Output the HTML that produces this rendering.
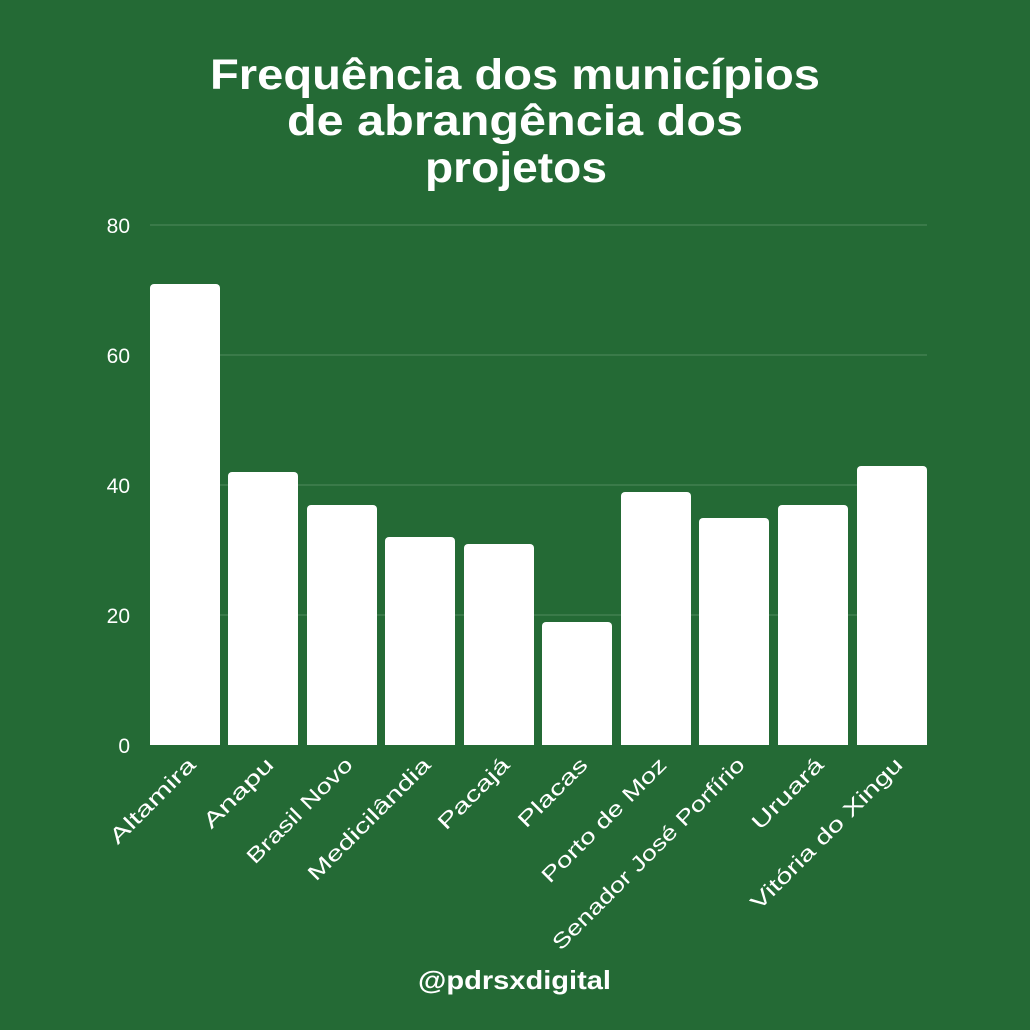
<!DOCTYPE html>
<html><head><meta charset="utf-8"><style>
html,body{margin:0;padding:0;background:#246a35;}
svg{display:block;font-family:"Liberation Sans",sans-serif;}
</style></head><body>
<svg width="1030" height="1030" viewBox="0 0 1030 1030" xmlns="http://www.w3.org/2000/svg">
<rect width="1030" height="1030" fill="#246a35"/>
<g fill="#fff" font-weight="bold" font-size="43" text-anchor="start">
<text x="210" y="89" textLength="610" lengthAdjust="spacingAndGlyphs">Frequência dos municípios</text>
<text x="287" y="135" textLength="456" lengthAdjust="spacingAndGlyphs">de abrangência dos</text>
<text x="425" y="182" textLength="182" lengthAdjust="spacingAndGlyphs">projetos</text>
<text x="418" y="989" font-size="26" textLength="193" lengthAdjust="spacingAndGlyphs">@pdrsxdigital</text>
</g>
<g stroke="#4f8a5d" stroke-width="1">
<line x1="150" y1="225" x2="927" y2="225"/>
<line x1="150" y1="355" x2="927" y2="355"/>
<line x1="150" y1="485" x2="927" y2="485"/>
<line x1="150" y1="615" x2="927" y2="615"/>
</g>
<g fill="#fff" font-size="21" text-anchor="end">
<text x="130" y="233">80</text>
<text x="130" y="363">60</text>
<text x="130" y="493">40</text>
<text x="130" y="623">20</text>
<text x="130" y="753">0</text>
</g>
<g fill="#fff">
<rect x="150" y="284" width="70" height="466" rx="4"/>
<rect x="228" y="472" width="70" height="278" rx="4"/>
<rect x="307" y="505" width="70" height="245" rx="4"/>
<rect x="385" y="537" width="70" height="213" rx="4"/>
<rect x="464" y="544" width="70" height="206" rx="4"/>
<rect x="542" y="622" width="70" height="128" rx="4"/>
<rect x="621" y="492" width="70" height="258" rx="4"/>
<rect x="699" y="518" width="70" height="232" rx="4"/>
<rect x="778" y="505" width="70" height="245" rx="4"/>
<rect x="857" y="466" width="70" height="284" rx="4"/>
</g>
<rect x="140" y="745" width="800" height="10" fill="#246a35"/>
<g fill="#fff" font-size="21" text-anchor="end">
<text transform="translate(197,766) rotate(-45)" textLength="112" lengthAdjust="spacingAndGlyphs">Altamira</text>
<text transform="translate(275,766) rotate(-45)" textLength="90" lengthAdjust="spacingAndGlyphs">Anapu</text>
<text transform="translate(354,766) rotate(-45)" textLength="140" lengthAdjust="spacingAndGlyphs">Brasil Novo</text>
<text transform="translate(432,766) rotate(-45)" textLength="164" lengthAdjust="spacingAndGlyphs">Medicilândia</text>
<text transform="translate(511,766) rotate(-45)" textLength="92" lengthAdjust="spacingAndGlyphs">Pacajá</text>
<text transform="translate(589,766) rotate(-45)" textLength="89" lengthAdjust="spacingAndGlyphs">Placas</text>
<text transform="translate(668,766) rotate(-45)" textLength="167" lengthAdjust="spacingAndGlyphs">Porto de Moz</text>
<text transform="translate(746,766) rotate(-45)" textLength="262" lengthAdjust="spacingAndGlyphs">Senador José Porfírio</text>
<text transform="translate(825,766) rotate(-45)" textLength="92" lengthAdjust="spacingAndGlyphs">Uruará</text>
<text transform="translate(904,766) rotate(-45)" textLength="205" lengthAdjust="spacingAndGlyphs">Vitória do Xingu</text>
</g>
</svg>
</body></html>
